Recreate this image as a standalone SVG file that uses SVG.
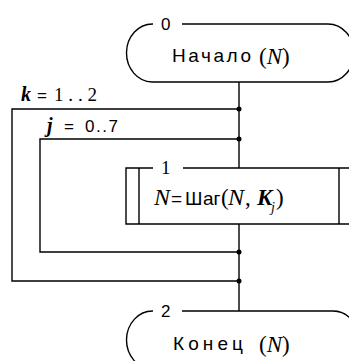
<svg xmlns="http://www.w3.org/2000/svg" width="349" height="361" viewBox="0 0 349 361">
<style>
.ln{fill:none;stroke:#000;stroke-width:1.4}
.sans{font-family:"Liberation Sans",Arial,sans-serif;fill:#000}
.ser{font-family:"Liberation Serif","Times New Roman",serif;fill:#000}
.it{font-style:italic}
.bi{font-style:italic;font-weight:bold}
.dot{fill:#000}
</style>
<rect width="349" height="361" fill="#fff"/>
<g id="connectors">
<path class="ln" d="M239,82 V168 M239,224 V311"/>
<path class="ln" d="M239,109 H12 V281 H239"/>
<path class="ln" d="M239,139 H40 V252 H239"/>
<circle class="dot" cx="239" cy="109" r="2.5"/>
<circle class="dot" cx="239" cy="139" r="2.5"/>
<circle class="dot" cx="239" cy="252" r="2.5"/>
<circle class="dot" cx="239" cy="281" r="2.5"/>
<text class="ser" font-size="20" y="101"><tspan class="bi" x="21">k</tspan><tspan x="37" class="sans" font-size="17">=</tspan><tspan x="54" font-size="19" textLength="43" lengthAdjust="spacing">1..2</tspan></text>
<text class="ser" font-size="20" y="132"><tspan class="bi" x="47">j</tspan><tspan x="64" class="sans" font-size="17">=</tspan><tspan x="85" class="sans" font-size="17" textLength="33" lengthAdjust="spacing">0..7</tspan></text>
</g>
<g id="node0">
<path class="ln" d="M182,24 H328 A26,29 0 0 1 328,82 H152 A26,29 0 0 1 153,24"/>
<text class="sans" font-size="17" x="161" y="30">0</text>
<text class="sans" font-size="19" x="172" y="62" textLength="79" lengthAdjust="spacing">Начало</text>
<text class="ser" font-size="23" y="64"><tspan x="259">(</tspan><tspan class="it">N</tspan><tspan>)</tspan></text>
</g>
<g id="node1">
<path class="ln" d="M153,168 H126 V224 H352 M183,168 H352 M139,168 V224 M339,168 V224"/>
<text class="ser" font-size="19" x="161" y="174">1</text>
<text y="205"><tspan class="ser it" font-size="24" x="154">N</tspan><tspan class="sans" font-size="19" x="171">=</tspan><tspan class="sans" font-size="19" x="185">Ш</tspan><tspan class="sans" font-size="19" x="203">аг</tspan><tspan class="ser" font-size="23" x="221">(</tspan><tspan class="ser it" font-size="24" x="228">N</tspan><tspan class="ser" font-size="23" x="245">,</tspan><tspan class="ser bi" font-size="23" x="257">K</tspan><tspan class="ser it" font-size="14" x="271" y="212">j</tspan><tspan class="ser" font-size="23" x="276" y="205">)</tspan></text>
</g>
<g id="node2">
<path class="ln" d="M182,311 H333 A26,29 0 0 1 333,369 H152 A26,29 0 0 1 153,311"/>
<text class="sans" font-size="17" x="161" y="317">2</text>
<text class="sans" font-size="19" x="173" y="350" textLength="70" lengthAdjust="spacing">Конец</text>
<text class="ser" font-size="23" y="352"><tspan x="259">(</tspan><tspan class="it">N</tspan><tspan>)</tspan></text>
</g>
</svg>
